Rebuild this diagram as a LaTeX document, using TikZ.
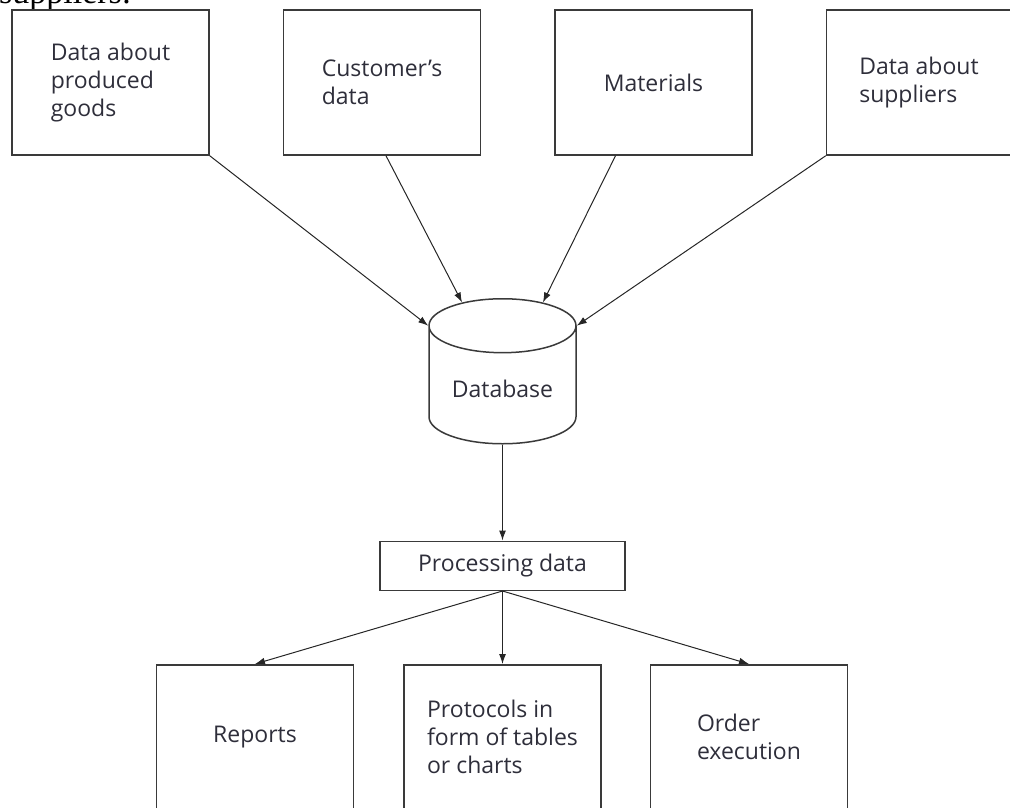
\documentclass[tikz,border=0pt]{standalone}
\usepackage{fontspec}
\setmainfont{Open Sans}
\newfontfamily\serifcut{Liberation Serif}
\usepackage{xcolor}
\usetikzlibrary{positioning, arrows.meta, shapes.geometric}

\definecolor{linegray}{HTML}{3A3A3A}
\definecolor{textgray}{HTML}{2E2E3A}

\tikzset{
    srcbox/.style={draw=linegray, line width=1.5pt, minimum width=197pt, minimum height=145pt,
        inner sep=0pt, align=left, text=textgray, font=\fontsize{23}{28}\selectfont},
    flow/.style={-{Latex[length=10pt, width=7pt]}, line width=1pt, draw=black!85}
}

\begin{document}
\begin{tikzpicture}[x=1pt, y=1pt, node distance=73pt and 73pt]
    \useasboundingbox (0,0) rectangle (1010,-807);
    \begin{scope}
    \clip (0,0) rectangle (1010,-807);

    % Text cut off above the figure
    \node (cut) [anchor=base west, inner sep=0pt, font=\serifcut\fontsize{34}{34}\selectfont] at (-1,-3) {suppliers:};

    % Sources
    \node (goods) [srcbox] at (110.5,-82.5) {Data about\\produced\\goods};
    \node (cust) [srcbox, right=of goods] {Customer's\\data};
    \node (mat) [srcbox, right=of cust] {Materials};
    \node (supp) [srcbox, right=of mat, minimum width=185pt] {Data about\\suppliers};

    % Storage
    \node (db) [cylinder, shape border rotate=90, aspect=0.5, draw=linegray, line width=1.5pt,
        minimum width=147pt, minimum height=145pt, text=textgray, font=\fontsize{23}{28}\selectfont,
        anchor=north] at (502.5,-298) {Database};

    % Processing
    \node (proc) [srcbox, below=96pt of db, minimum width=245pt, minimum height=49pt] {Processing data};

    % Results
    \node (protocols) [srcbox, below=73pt of proc] {Protocols in\\form of tables\\or charts};
    \node (reports) [srcbox, left=49pt of protocols] {Reports};
    \node (order) [srcbox, right=48pt of protocols] {Order\\execution};

    % Edges
    \draw[flow] (goods.south east) -- (db.before top);
    \draw[flow] ([xshift=4pt]cust.south) -- (db.115);
    \draw[flow] ([xshift=-38pt]mat.south) -- (db.65);
    \draw[flow] (supp.south west) -- (db.after top);
    \draw[flow] (db) -- (proc);
    \draw[flow] (proc.south) -- (reports.north);
    \draw[flow] (proc.south) -- (protocols.north);
    \draw[flow] (proc.south) -- (order.north);
    \end{scope}
\end{tikzpicture}
\end{document}
